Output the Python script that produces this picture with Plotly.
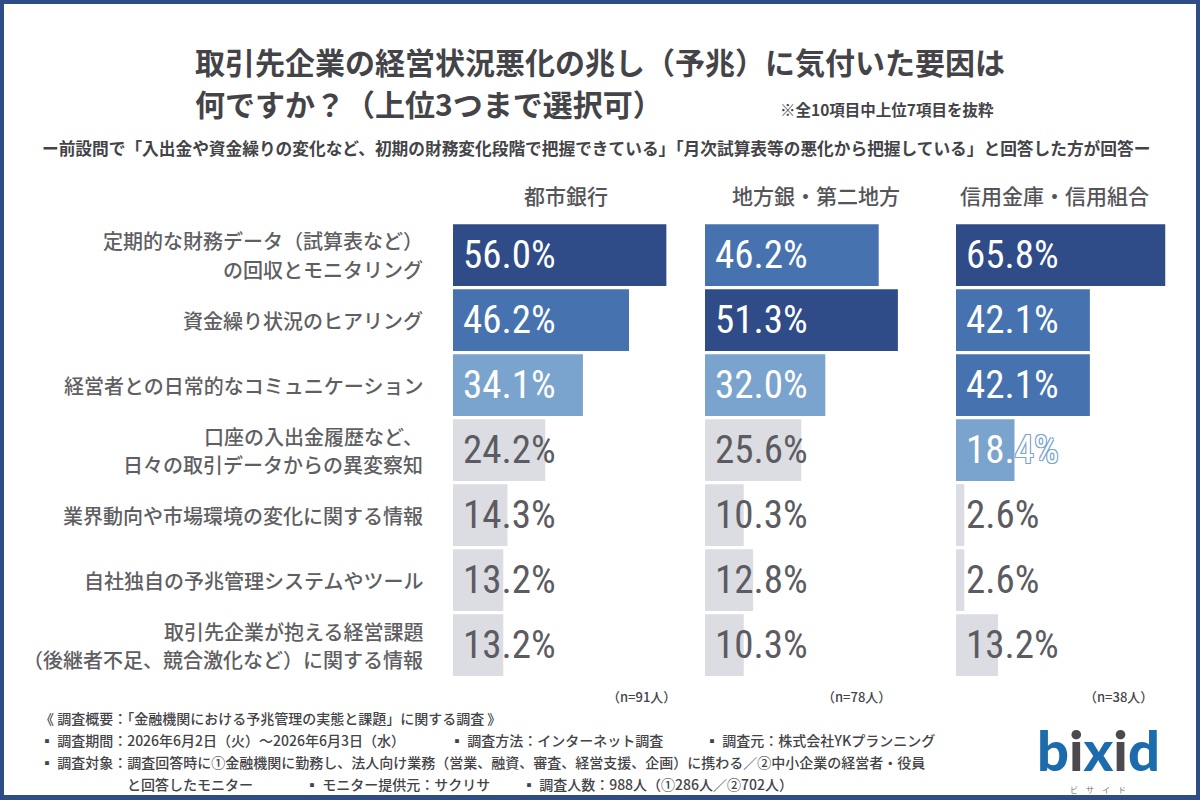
import plotly.graph_objects as go

# ---------------- data ----------------
categories = [
    "定期的な財務データ（試算表など）<br>の回収とモニタリング",
    "資金繰り状況のヒアリング",
    "経営者との日常的なコミュニケーション",
    "口座の入出金履歴など、<br>日々の取引データからの異変察知",
    "業界動向や市場環境の変化に関する情報",
    "自社独自の予兆管理システムやツール",
    "取引先企業が抱える経営課題<br>（後継者不足、競合激化など）に関する情報",
]
groups = ["都市銀行", "地方銀・第二地方", "信用金庫・信用組合"]
city_banks = [56.0, 46.2, 34.1, 24.2, 14.3, 13.2, 13.2]
regional_banks = [46.2, 51.3, 32.0, 25.6, 10.3, 12.8, 10.3]
shinkin = [65.8, 42.1, 42.1, 18.4, 2.6, 2.6, 13.2]
sample_sizes = ["（n=91人）", "（n=78人）", "（n=38人）"]

title_line1 = "取引先企業の経営状況悪化の兆し（予兆）に気付いた要因は"
title_line2 = "何ですか？（上位3つまで選択可）"
title_note = "※全10項目中上位7項目を抜粋"
subtitle = "ー前設問で「入出金や資金繰りの変化など、初期の財務変化段階で把握できている」「月次試算表等の悪化から把握している」と回答した方が回答ー"
footer_lines = [
    [("《 調査概要：「金融機関における予兆管理の実態と課題」に関する調査 》", 38)],
    [("▪ 調査期間：2026年6月2日（火）〜2026年6月3日（水）", 38),
     ("▪ 調査方法：インターネット調査", 448),
     ("▪ 調査元：株式会社YKプランニング", 703)],
    [("▪ 調査対象：調査回答時に①金融機関に勤務し、法人向け業務（営業、融資、審査、経営支援、企画）に携わる／②中小企業の経営者・役員", 38)],
    [("と回答したモニター", 125),
     ("▪ モニター提供元：サクリサ", 303),
     ("▪ 調査人数：988人（①286人／②702人）", 520)],
]

series = [city_banks, regional_banks, shinkin]

# ---------------- styles ----------------
W, H = 1200, 800
JP = "Noto Sans CJK JP, Noto Sans, sans-serif"
NUM = "Liberation Sans Narrow, Roboto Condensed, DejaVu Sans Condensed, sans-serif"
RANK_COLORS = ["#2f4b88", "#4772b0", "#7aa3cd"]
GRAY_BAR = "#dcdde2"
GRAY_TXT = "#5b5b61"
TXT = "#444448"
LABEL = "#5f5f63"
BORDER = "#2e4d86"

# panel geometry in pixels: (start x, px per percent, axis max)
panels = [(453, 3.81, 60), (705, 3.76, 60), (956, 3.18, 70)]
header_x = [566, 816, 1054]
n_x = [641, 857, 1118]
y_top, y_bot = 222.5, 677.5


def px(x):
    return x / W


def py(y):
    return 1 - y / H


fig = go.Figure()
annotations = []

# category labels (right-aligned, left of the first panel)
for cat in categories:
    lines = cat.split("<br>")
    n = len(lines)
    for li, txt in enumerate(lines):
        annotations.append(dict(
            x=px(425), y=cat, xref="paper", yref="y", text=txt,
            xanchor="right", yanchor="middle", showarrow=False,
            yshift=(n - 1) * 14 - li * 28,
            font=dict(family=JP, size=20, color=LABEL, weight=500),
        ))

for i, vals in enumerate(series):
    s = "" if i == 0 else str(i + 1)
    distinct = sorted(set(vals), reverse=True)
    colors, tcolors, shadows = [], [], []
    for v in vals:
        r = distinct.index(v)
        if r < 3:
            c = RANK_COLORS[r]
            colors.append(c)
            tcolors.append("white")
            shadows.append(f"1px 1px 0 {c}, -1px -1px 0 {c}, 1px -1px 0 {c}, -1px 1px 0 {c}")
        else:
            colors.append(GRAY_BAR)
            tcolors.append(GRAY_TXT)
            shadows.append("none")
    fig.add_trace(go.Bar(
        x=vals, y=categories, orientation="h",
        marker=dict(color=colors, line=dict(width=0)),
        xaxis="x" + s, yaxis="y" + s, hoverinfo="skip", showlegend=False,
    ))
    for j, v in enumerate(vals):
        annotations.append(dict(
            x=0, y=categories[j], xref="x" + s, yref="y" + s,
            text=f"{v:.1f}%", xanchor="left", yanchor="middle", xshift=8,
            showarrow=False,
            font=dict(family=NUM, size=39, color=tcolors[j], shadow=shadows[j]),
        ))
    x0, scale, xmax = panels[i]
    fig.update_layout(**{
        "xaxis" + s: dict(domain=[px(x0), px(x0 + scale * xmax)], range=[0, xmax],
                          visible=False, fixedrange=True),
        "yaxis" + s: dict(domain=[py(y_bot), py(y_top)], anchor="x" + s,
                          type="category", categoryorder="array",
                          categoryarray=categories, autorange="reversed",
                          showgrid=False, zeroline=False, showline=False, ticks="",
                          showticklabels=False, fixedrange=True),
    })
    annotations.append(dict(x=px(header_x[i]), y=py(195), xref="paper", yref="paper",
                            text=groups[i], showarrow=False, xanchor="center", yanchor="middle",
                            font=dict(family=JP, size=21, color="#555559", weight=500)))
    annotations.append(dict(x=px(n_x[i]), y=py(696), xref="paper", yref="paper",
                            text=sample_sizes[i], showarrow=False, xanchor="center", yanchor="middle",
                            font=dict(family=JP, size=13, color=TXT, weight=500)))

# titles
annotations += [
    dict(x=px(193), y=py(61), xref="paper", yref="paper", text=title_line1, showarrow=False,
         xanchor="left", yanchor="middle", font=dict(family=JP, size=30, color=TXT, weight="bold")),
    dict(x=px(193), y=py(103), xref="paper", yref="paper", text=title_line2, showarrow=False,
         xanchor="left", yanchor="middle", font=dict(family=JP, size=30, color=TXT, weight="bold")),
    dict(x=px(778), y=py(109), xref="paper", yref="paper", text=title_note, showarrow=False,
         xanchor="left", yanchor="middle", font=dict(family=JP, size=15.5, color=TXT, weight="bold")),
    dict(x=px(596), y=py(148), xref="paper", yref="paper", text=subtitle, showarrow=False,
         xanchor="center", yanchor="middle", font=dict(family=JP, size=16.7, color=TXT, weight="bold")),
]

# footer
for k, line in enumerate(footer_lines):
    for txt, xpos in line:
        annotations.append(dict(x=px(xpos), y=py(718 + 22 * k), xref="paper", yref="paper",
                                text=txt, showarrow=False, xanchor="left", yanchor="middle",
                                font=dict(family=JP, size=14, color=TXT, weight=500)))

# logo
B, G = "#1c6cad", "#4b4b4f"
logo = (f"<span style='color:{B}'>b</span><span style='color:{G}'>i</span>"
        f"<span style='color:{B}'>x</span><span style='color:{G}'>i</span>"
        f"<span style='color:{B}'>d</span>")
annotations.append(dict(x=px(1098), y=py(749), xref="paper", yref="paper", text=logo,
                        showarrow=False, xanchor="center", yanchor="middle",
                        font=dict(family="Lato, Open Sans, sans-serif", size=56, weight=900)))
annotations.append(dict(x=px(1098), y=py(789), xref="paper", yref="paper", text="ビ　サ　イ　ド",
                        showarrow=False, xanchor="center", yanchor="middle",
                        font=dict(family=JP, size=8, color="#777")))

shapes = [
    dict(type="rect", xref="paper", yref="paper", x0=0, x1=1, y0=0, y1=1,
         line=dict(color=BORDER, width=8), fillcolor="rgba(0,0,0,0)"),
    dict(type="rect", xref="paper", yref="paper", x0=0, x1=1, y0=0, y1=py(795),
         line=dict(width=0), fillcolor=BORDER),
]

fig.update_layout(
    width=W, height=H, autosize=False,
    margin=dict(l=0, r=0, t=0, b=0),
    paper_bgcolor="white", plot_bgcolor="white",
    bargap=0.05, showlegend=False,
    annotations=annotations, shapes=shapes,
)

fig.write_html("out.html")
